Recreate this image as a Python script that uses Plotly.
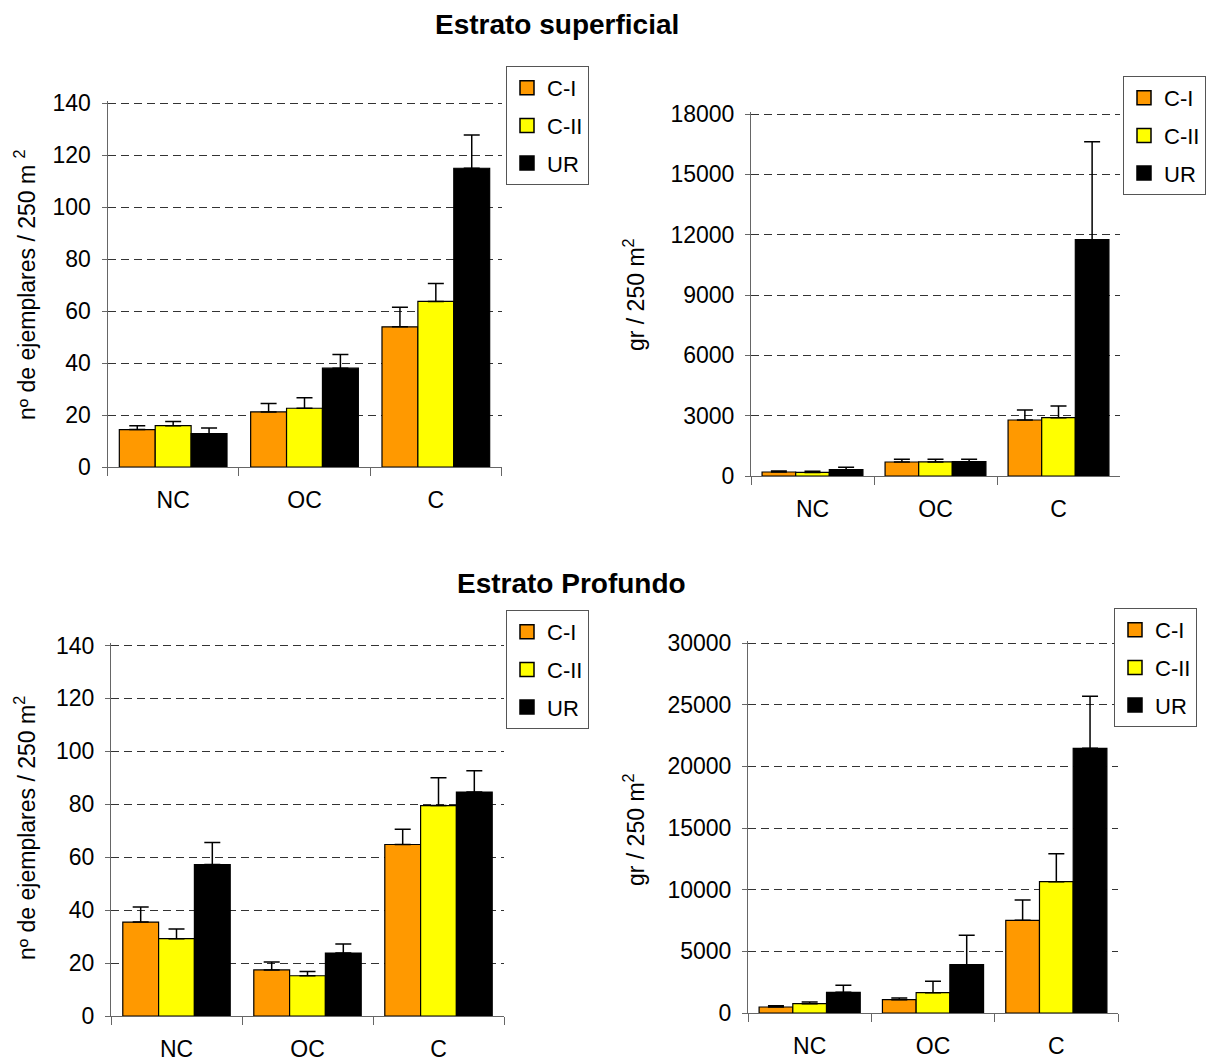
import plotly.graph_objects as go

W, H = 1207, 1061

categories = ["NC", "OC", "C"]
series_names = ["C-I", "C-II", "UR"]
series_colors = ["#FF9900", "#FFFF00", "#000000"]

# Estrato superficial - nº de ejemplares
sup_n_vals = {"C-I": [14.4, 21.2, 53.9], "C-II": [15.9, 22.6, 63.7], "UR": [12.8, 38.0, 114.9]}
sup_n_top = {"C-I": [15.9, 24.4, 61.4], "C-II": [17.5, 26.6, 70.6], "UR": [15.0, 43.3, 127.7]}
# Estrato superficial - gr
sup_g_vals = {"C-I": [200, 696, 2785], "C-II": [180, 700, 2900], "UR": [315, 713, 11750]}
sup_g_top = {"C-I": [250, 830, 3280], "C-II": [230, 830, 3480], "UR": [430, 830, 16620]}
# Estrato profundo - nº de ejemplares
pro_n_vals = {"C-I": [35.5, 17.4, 64.8], "C-II": [29.2, 15.2, 79.5], "UR": [57.2, 23.8, 84.6]}
pro_n_top = {"C-I": [41.2, 20.4, 70.6], "C-II": [32.9, 16.8, 90.0], "UR": [65.6, 27.2, 92.7]}
# Estrato profundo - gr
pro_g_vals = {"C-I": [486, 1081, 7514], "C-II": [757, 1649, 10649], "UR": [1676, 3919, 21459]}
pro_g_top = {"C-I": [595, 1216, 9162], "C-II": [890, 2568, 12919], "UR": [2243, 6297, 25676]}

y_ticks_n = [0, 20, 40, 60, 80, 100, 120, 140]
y_ticks_sup_g = [0, 3000, 6000, 9000, 12000, 15000, 18000]
y_ticks_pro_g = [0, 5000, 10000, 15000, 20000, 25000, 30000]

FONT = "Arial, Liberation Sans, sans-serif"
EXTRA = 2.5  # px of headroom so the top gridline is drawn

panels = [
    # values, error tops, axes, x px span, y px (bottom, top-tick), top tick value, ticks, legend
    (sup_n_vals, sup_n_top, "x", "y", (107.5, 501.5), (467, 103), 140, y_ticks_n, "legend"),
    (sup_g_vals, sup_g_top, "x2", "y2", (751, 1120), (476, 114), 18000, y_ticks_sup_g, "legend2"),
    (pro_n_vals, pro_n_top, "x3", "y3", (111, 504), (1016, 645.5), 140, y_ticks_n, "legend3"),
    (pro_g_vals, pro_g_top, "x4", "y4", (748, 1118), (1013, 643), 30000, y_ticks_pro_g, "legend4"),
]

fig = go.Figure()
layout = {}

for i, (vals, tops, xk, yk, xs, ys, ymax, yt, lg) in enumerate(panels):
    bottom, top = ys
    L = bottom - top
    rmax = ymax * (L + EXTRA) / L
    for name, color in zip(series_names, series_colors):
        v = vals[name]
        e = [t - b for t, b in zip(tops[name], v)]
        fig.add_trace(go.Bar(
            x=categories, y=v, name=name, xaxis=xk, yaxis=yk,
            marker=dict(color=color, line=dict(color="#000000", width=1.2)),
            error_y=dict(type="data", symmetric=False, array=e,
                         arrayminus=[0] * len(v), color="#000000",
                         thickness=1.5, width=8),
            showlegend=False,
        ))
        # legend swatch (square with black outline, like the original)
        fig.add_trace(go.Scatter(
            x=[None], y=[None], name=name, xaxis=xk, yaxis=yk, mode="markers",
            marker=dict(symbol="square", size=14, color=color,
                        line=dict(color="#000000", width=1.5)),
            legend=lg, legendgroup=f"{lg}_{name}", showlegend=True,
        ))
    n = "" if i == 0 else str(i + 1)
    layout[f"xaxis{n}"] = dict(
        domain=[xs[0] / W, xs[1] / W], anchor=yk, type="category", automargin=False,
        showline=True, linecolor="#666666", linewidth=1,
        ticks="outside", tickson="boundaries", ticklen=8, tickcolor="#666666",
        tickfont=dict(family=FONT, size=23, color="#000000"),
        ticklabelstandoff=12,
        showgrid=False, zeroline=False, fixedrange=True,
    )
    layout[f"yaxis{n}"] = dict(
        domain=[1 - bottom / H, 1 - (top - EXTRA) / H], anchor=xk,
        range=[0, rmax], tickvals=yt, tickformat="d",
        automargin=False,
        showline=True, linecolor="#666666", linewidth=1,
        ticks="outside", ticklen=5, tickcolor="#666666",
        tickfont=dict(family=FONT, size=23, color="#000000"),
        ticklabelstandoff=6,
        showgrid=True, gridcolor="#333333", gridwidth=1, griddash="8px,5px",
        zeroline=False, fixedrange=True,
    )

legend_style = dict(
    xanchor="left", yanchor="top", bgcolor="#FFFFFF",
    bordercolor="#555555", borderwidth=1,
    font=dict(family=FONT, size=22, color="#000000"),
    tracegroupgap=6, itemclick=False, itemdoubleclick=False,
    itemwidth=30,
)
layout["legend"] = dict(x=506 / W, y=1 - 66 / H, **legend_style)
layout["legend2"] = dict(x=1123 / W, y=1 - 76 / H, **legend_style)
layout["legend3"] = dict(x=506 / W, y=1 - 610 / H, **legend_style)
layout["legend4"] = dict(x=1114 / W, y=1 - 608 / H, **legend_style)

TF = dict(family=FONT, size=23, color="#000000")
annotations = [
    dict(text="<b>Estrato superficial</b>", x=557 / W, y=1 - 25 / H, xref="paper", yref="paper",
         showarrow=False, font=dict(family=FONT, size=28, color="#000000"), xanchor="center", yanchor="middle"),
    dict(text="<b>Estrato Profundo</b>", x=571 / W, y=1 - 583 / H, xref="paper", yref="paper",
         showarrow=False, font=dict(family=FONT, size=28, color="#000000"), xanchor="center", yanchor="middle"),
    dict(text="nº de ejemplares / 250 m <sup>2</sup>", x=25 / W, y=1 - 285 / H, xref="paper", yref="paper",
         textangle=-90, showarrow=False, font=TF, xanchor="center", yanchor="middle"),
    dict(text="gr / 250 m<sup>2</sup>", x=634 / W, y=1 - 295 / H, xref="paper", yref="paper",
         textangle=-90, showarrow=False, font=TF, xanchor="center", yanchor="middle"),
    dict(text="nº de ejemplares / 250 m<sup>2</sup>", x=25 / W, y=1 - 828 / H, xref="paper", yref="paper",
         textangle=-90, showarrow=False, font=TF, xanchor="center", yanchor="middle"),
    dict(text="gr / 250 m<sup>2</sup>", x=634 / W, y=1 - 830 / H, xref="paper", yref="paper",
         textangle=-90, showarrow=False, font=TF, xanchor="center", yanchor="middle"),
]

fig.update_layout(
    template="none",
    width=W, height=H,
    margin=dict(l=0, r=0, t=0, b=0, autoexpand=False),
    paper_bgcolor="#FFFFFF", plot_bgcolor="#FFFFFF",
    barmode="group", bargap=0.18, bargroupgap=0,
    annotations=annotations,
    font=dict(family=FONT, color="#000000"),
    **layout,
)

fig.write_html("out.html")
